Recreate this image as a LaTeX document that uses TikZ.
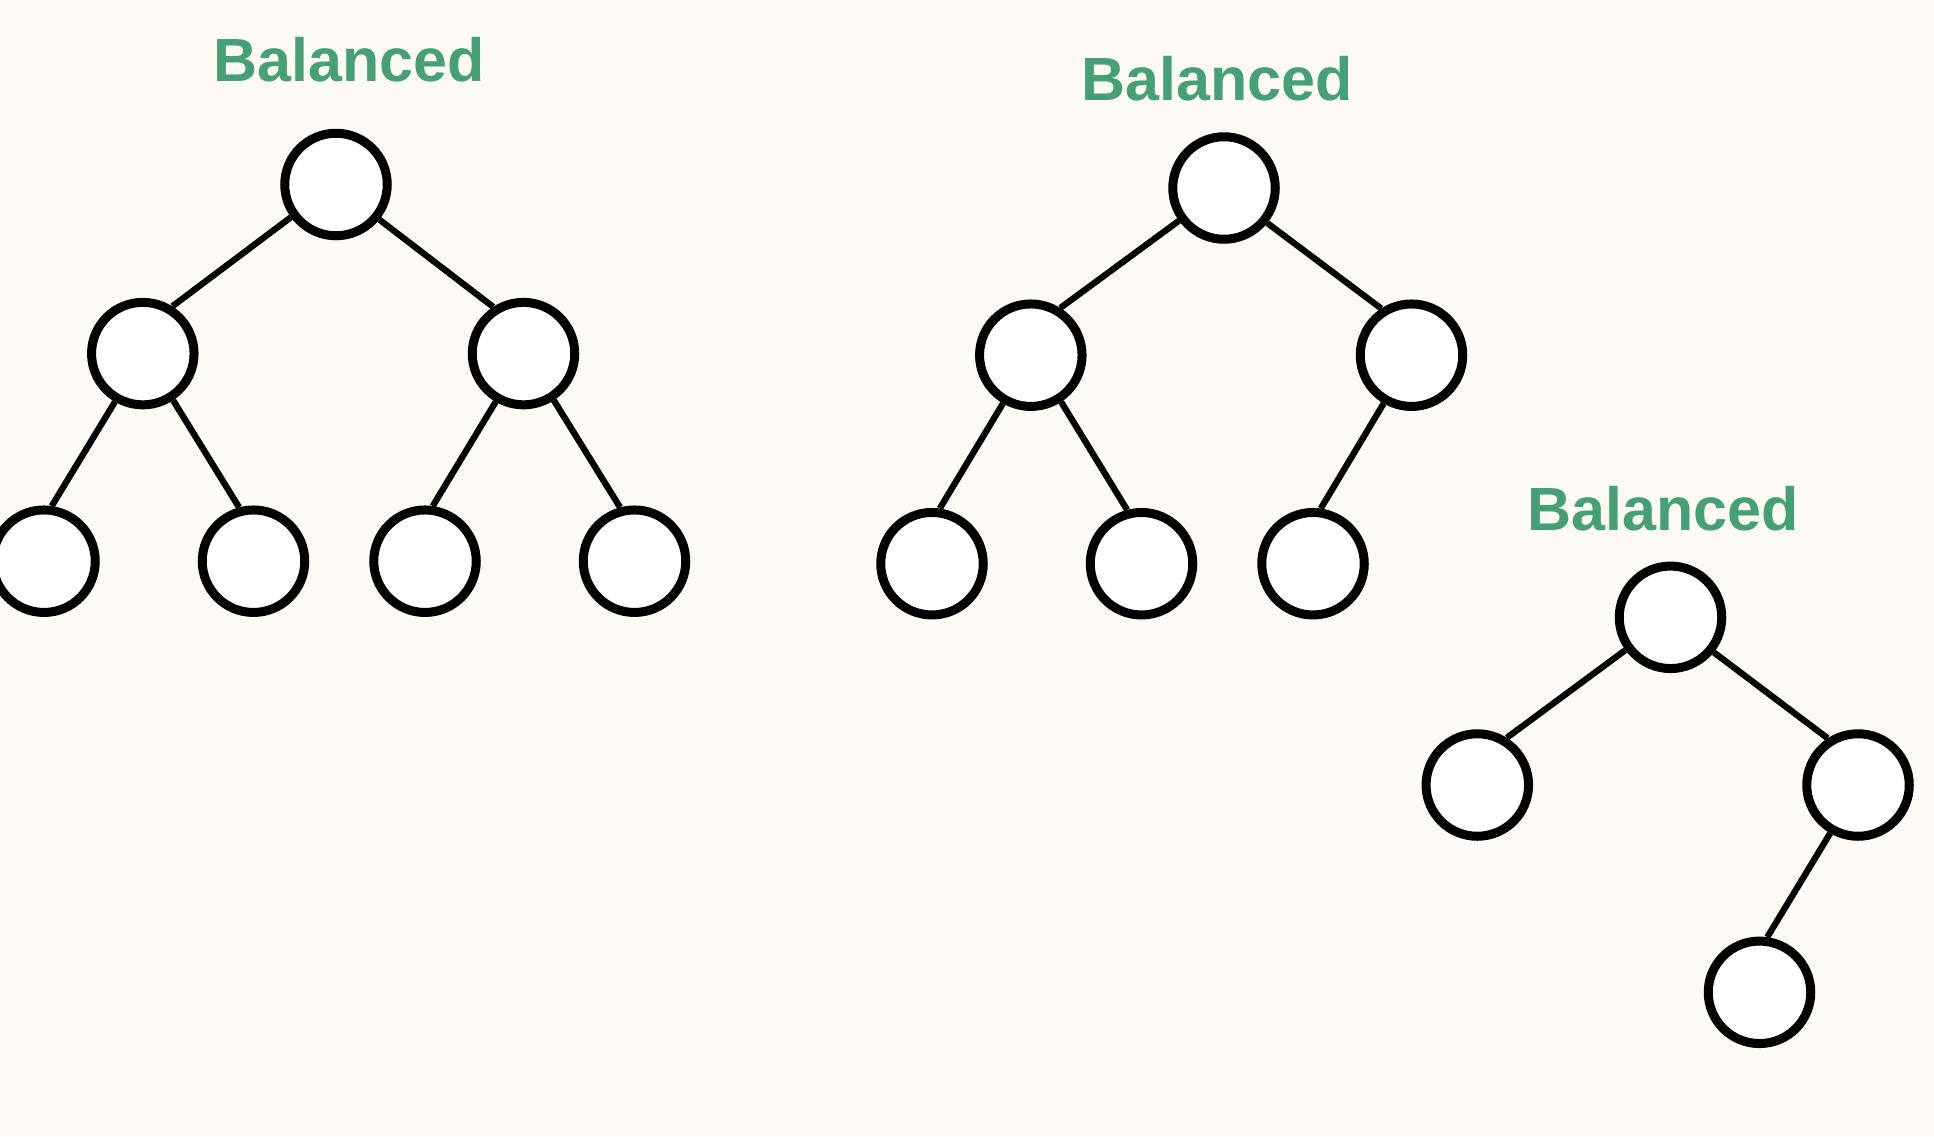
\documentclass[tikz,border=0pt]{standalone}
\usepackage{fontspec}
\setmainfont{Liberation Sans}
\definecolor{bg}{HTML}{FDF9F4}
\definecolor{lblgreen}{HTML}{459F78}
\begin{document}
\begin{tikzpicture}[x=1pt,y=-1pt,
  tnode/.style={circle,draw=black,fill=white,line width=9pt,minimum size=102.5pt,inner sep=0pt},
  tedge/.style={line width=6.3pt,draw=black},
  lbl/.style={anchor=base,text=lblgreen,font=\fontsize{61}{70}\selectfont\bfseries,inner sep=0pt}]
\fill[bg] (0,0) rectangle (1934,1136);
\useasboundingbox (0,0) rectangle (1934,1136);
% Tree 1
\node[lbl] (t1) at (349,81.7) {Balanced};
\node[tnode] (a) at (336,184.5) {};
\node[tnode] (b) at (142.8,353.6) {};
\node[tnode] (c) at (523.5,353.6) {};
\node[tnode] (d) at (44,561.2) {};
\node[tnode] (e) at (253.5,561.2) {};
\node[tnode] (f) at (425,561.2) {};
\node[tnode] (g) at (634.5,561.2) {};
% Tree 2
\node[lbl] (t2) at (1217,100) {Balanced};
\node[tnode] (h) at (1224,188) {};
\node[tnode] (i) at (1030.8,355.2) {};
\node[tnode] (j) at (1411.5,355.2) {};
\node[tnode] (k) at (932,563.7) {};
\node[tnode] (l) at (1141.5,563.7) {};
\node[tnode] (m) at (1313,563.7) {};
% Tree 3
\node[lbl] (t3) at (1663,530) {Balanced};
\node[tnode] (n) at (1670.5,617.3) {};
\node[tnode] (o) at (1477.3,785) {};
\node[tnode] (p) at (1858,785) {};
\node[tnode] (q) at (1759.5,992.3) {};
% edges
\draw[tedge] (a.216) -- (b.58.5);
\draw[tedge] (a.321.2) -- (c.123.7);
\draw[tedge] (b.240.9) -- (d.82);
\draw[tedge] (b.303.6) -- (e.105.7);
\draw[tedge] (c.240.9) -- (f.82);
\draw[tedge] (c.303.6) -- (g.105.7);
\draw[tedge] (h.216) -- (i.58.5);
\draw[tedge] (h.321.2) -- (j.123.7);
\draw[tedge] (i.240.9) -- (k.82);
\draw[tedge] (i.303.6) -- (l.105.7);
\draw[tedge] (j.240.9) -- (m.82);
\draw[tedge] (n.216) -- (o.58.5);
\draw[tedge] (n.321.2) -- (p.123.7);
\draw[tedge] (p.240.9) -- (q.82);
\end{tikzpicture}
\end{document}
